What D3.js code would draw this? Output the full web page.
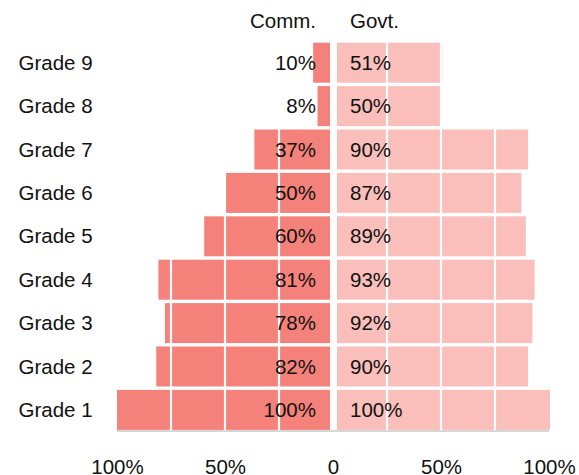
<!DOCTYPE html>
<html><head><meta charset="utf-8">
<script src="https://cdn.jsdelivr.net/npm/d3@7/dist/d3.min.js"></script>
<style>body{margin:0;background:#fff}svg{display:block}text{font-family:"Liberation Sans",Arial,sans-serif;fill:#111}</style>
</head><body>
<svg id="c" width="579" height="475"></svg>
<script>
const grades = ["Grade 9","Grade 8","Grade 7","Grade 6","Grade 5","Grade 4","Grade 3","Grade 2","Grade 1"];
const commValues = [10, 8, 37, 50, 60, 81, 78, 82, 100];
const govtValues = [51, 50, 90, 87, 89, 93, 92, 90, 100];
const tickValues = [-100, -50, 0, 50, 100];
const gridValues = [-75, -50, -25, 25, 50, 75];
const seriesNames = ["Comm.", "Govt."];

const svg = d3.select("#c");
const FS = 20.5;
const y = d3.scaleBand().domain(grades).range([39.3, 433.3]).padding(0.0783);
const xL = d3.scaleLinear().domain([0, 100]).range([335, 117]);
const xR = d3.scaleLinear().domain([0, 100]).range([330, 550]);
const xAxis = d3.scaleLinear().domain([-100, 100]).range([117, 549]);
const leftEdge = 330, rightEdge = 337;

const rows = grades.map((g, i) => ({g, c: commValues[i], v: govtValues[i]}));

// baseline
svg.append("line").attr("x1", xAxis(-100)).attr("x2", xAxis(100))
  .attr("y1", y.range()[1] - 2.3).attr("y2", y.range()[1] - 2.3)
  .attr("stroke", "#c8c8c8").attr("stroke-width", 1.6);

svg.append("g").selectAll("rect").data(rows).join("rect")
  .attr("x", d => xL(d.c)).attr("width", d => leftEdge - xL(d.c))
  .attr("y", d => y(d.g)).attr("height", y.bandwidth())
  .attr("fill", "#f5827a");
svg.append("g").selectAll("rect").data(rows).join("rect")
  .attr("x", rightEdge).attr("width", d => xR(d.v) - rightEdge)
  .attr("y", d => y(d.g)).attr("height", y.bandwidth())
  .attr("fill", "#fabfbb");

// white gridlines over bars
svg.append("g").selectAll("line").data(gridValues).join("line")
  .attr("x1", d => xAxis(d)).attr("x2", d => xAxis(d))
  .attr("y1", y.range()[0]).attr("y2", y.range()[1] - 3)
  .attr("stroke", "#fff").attr("stroke-width", 2.2);

// value labels
svg.append("g").selectAll("text").data(rows).join("text")
  .attr("x", 316).attr("y", d => y(d.g) + y.bandwidth() / 2).attr("dy", "0.35em")
  .attr("text-anchor", "end").style("font-size", FS + "px").text(d => d.c + "%");
svg.append("g").selectAll("text").data(rows).join("text")
  .attr("x", 350).attr("y", d => y(d.g) + y.bandwidth() / 2).attr("dy", "0.35em")
  .attr("text-anchor", "start").style("font-size", FS + "px").text(d => d.v + "%");

// category labels
svg.append("g").selectAll("text").data(grades).join("text")
  .attr("x", 18.5).attr("y", d => y(d) + y.bandwidth() / 2).attr("dy", "0.35em")
  .style("font-size", FS + "px").text(d => d);

// headers
svg.append("text").attr("x", 316).attr("y", 28).attr("text-anchor", "end")
  .style("font-size", FS + "px").text(seriesNames[0]);
svg.append("text").attr("x", 350).attr("y", 28).attr("text-anchor", "start")
  .style("font-size", FS + "px").text(seriesNames[1]);

// axis
const axis = d3.axisBottom(xAxis).tickValues(tickValues).tickSize(0)
  .tickFormat(d => d === 0 ? "0" : Math.abs(d) + "%");
const ag = svg.append("g").attr("transform", "translate(0,459)").call(axis);
ag.select(".domain").remove();
ag.selectAll("text").style("font-size", FS + "px").attr("fill", "#111")
  .attr("font-family", null).attr("y", 0).attr("dy", "0.71em");
</script>
</body></html>
